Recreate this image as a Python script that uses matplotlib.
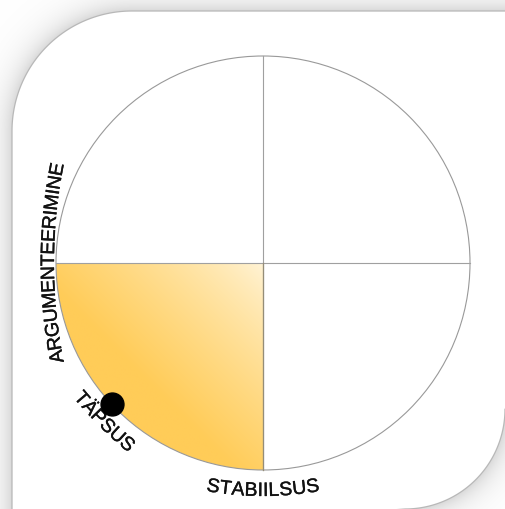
import numpy as np
import matplotlib
matplotlib.use("Agg")
import matplotlib.pyplot as plt
import matplotlib.patheffects as pe
from matplotlib.patches import Circle, Wedge, Polygon
from matplotlib.font_manager import FontProperties, findfont, get_font

# ---------------- data ----------------
labels = ["ARGUMENTEERIMINE", "TÄPSUS", "STABIILSUS"]
label_angles = [180, 225, 270]          # degrees on the circle
label_facing = ["out", "in", "in"]      # outward (clockwise) / inward (ccw) reading
highlight_sector = [180, 270]           # highlighted quadrant (degrees)
point_angle = [223]                     # degrees
point_radius = [1.0]                    # fraction of circle radius

# ---------------- layout ----------------
W, H = 505, 510
CX, CY, RPX = 263, 264, 207             # circle centre and radius in pixels
FONT = "Liberation Sans"
FS = 14
LABEL_R = [209, 231, 233]               # baseline radius at label centre (px)
PATH_R = [500, 420, 320]                # curvature radius of each label's text path (px)
TRACK = [0.965, 1.0, 1.02]              # letter spacing factor

fig = plt.figure(figsize=(W / 100, H / 100), dpi=100)

# ---- card background with soft shadow ----
bg = fig.add_axes([0, 0, 1, 1])
bg.set_xlim(0, W)
bg.set_ylim(H, 0)
bg.axis("off")
LEFT, TOP, RIGHT, BOTTOM = 12, 12, 505, 510
TLR, BRR = 120, 100
yy, xx = np.mgrid[0:H, 0:W] + 0.5
d = np.maximum.reduce([LEFT - xx, TOP - yy, xx - RIGHT, yy - BOTTOM])
m1 = (xx < LEFT + TLR) & (yy < TOP + TLR)
d[m1] = np.hypot(xx[m1] - (LEFT + TLR), yy[m1] - (TOP + TLR)) - TLR
m2 = (xx > RIGHT - BRR) & (yy > BOTTOM - BRR)
d[m2] = np.hypot(xx[m2] - (RIGHT - BRR), yy[m2] - (BOTTOM - BRR)) - BRR
shade = np.where(d > 0, 1 - 0.15 * np.exp(-d / 13.0), 1.0)
bg.imshow(np.dstack([shade] * 3), extent=(0, W, H, 0), interpolation="bilinear", zorder=0)
a1 = np.linspace(np.pi, 1.5 * np.pi, 60)
a2 = np.linspace(0, 0.5 * np.pi, 60)
pts = np.vstack([
    np.column_stack([LEFT + TLR + TLR * np.cos(a1), TOP + TLR + TLR * np.sin(a1)]),
    [[W + 30, TOP], [W + 30, RIGHT - BRR]],
    np.column_stack([RIGHT - BRR + BRR * np.cos(a2), BOTTOM - BRR + BRR * np.sin(a2)]),
    [[LEFT, H + 30]],
])
bg.add_patch(Polygon(pts, closed=True, fill=False, ec="#b8b8b8", lw=0.9, zorder=1))

# ---- chart axes (unit circle) ----
ax = fig.add_axes([0, 0, 1, 1])
ax.set_xlim(-CX / RPX, (W - CX) / RPX)
ax.set_ylim(-(H - CY) / RPX, CY / RPX)
ax.set_aspect("auto")
ax.axis("off")
ax.patch.set_alpha(0)

# gradient-filled quadrant
n = 300
gx, gy = np.meshgrid(np.linspace(-1, 0, n), np.linspace(-1, 0, n))
s = np.clip((-gx - gy) / np.sqrt(2) / 0.8, 0, 1) ** 0.8
light = np.array([255, 244, 216]) / 255
dark = np.array([255, 204, 88]) / 255
img = light[None, None, :] * (1 - s[..., None]) + dark[None, None, :] * s[..., None]
wedge = Wedge((0, 0), 1, highlight_sector[0], highlight_sector[1], fc="none", ec="none")
ax.add_patch(wedge)
im = ax.imshow(img, extent=(-1, 0, -1, 0), origin="lower", zorder=1, interpolation="bilinear")
im.set_clip_path(wedge)

# circle and cross lines
ax.add_patch(Circle((0, 0), 1, fill=False, ec="#999999", lw=0.8, zorder=2))
ax.plot([-1, 1], [0, 0], color="#a0a0a0", lw=0.8, zorder=2)
ax.plot([0, 0], [-1, 1], color="#a0a0a0", lw=0.8, zorder=2)
ax.plot([0, 0], [-1, 0], color="#958d78", lw=0.9, zorder=2)

# point
pa = np.deg2rad(point_angle)
ax.plot(np.array(point_radius) * np.cos(pa), np.array(point_radius) * np.sin(pa),
        "o", ms=16.5, color="black", zorder=5)

# curved labels
fp = FontProperties(family=FONT, size=FS)
ft = get_font(findfont(fp))
ft.set_size(FS, 100)
stroke = [pe.withStroke(linewidth=0.25, foreground="#111111")]


def advances(txt):
    out = []
    for ch in txt:
        g = ft.load_char(ord(ch))
        out.append(g.linearHoriAdvance / 65536.0)
    return np.array(out)


def curved(txt, center, facing, r0_px, path_r, track):
    adv = advances(txt) * track
    total = adv.sum()
    mids = np.cumsum(adv) - adv / 2 - total / 2
    r0 = r0_px / RPX
    rt = path_r / RPX
    t0 = np.deg2rad(center)
    ccx, ccy = (r0 - rt) * np.cos(t0), (r0 - rt) * np.sin(t0)
    for ch, m in zip(txt, mids):
        off = np.rad2deg(m / path_r)
        if facing == "out":
            th = center - off
            rot = th - 90
        else:
            th = center + off
            rot = th + 90
        t = np.deg2rad(th)
        ax.text(ccx + rt * np.cos(t), ccy + rt * np.sin(t), ch, fontproperties=fp,
                color="#111111", ha="center", va="baseline", rotation=rot,
                rotation_mode="anchor", zorder=4, path_effects=stroke)


for lab, ang, fc, r0p, pr, tr in zip(labels, label_angles, label_facing, LABEL_R, PATH_R, TRACK):
    curved(lab, ang, fc, r0p, pr, tr)

fig.savefig("out.png", dpi=100)
